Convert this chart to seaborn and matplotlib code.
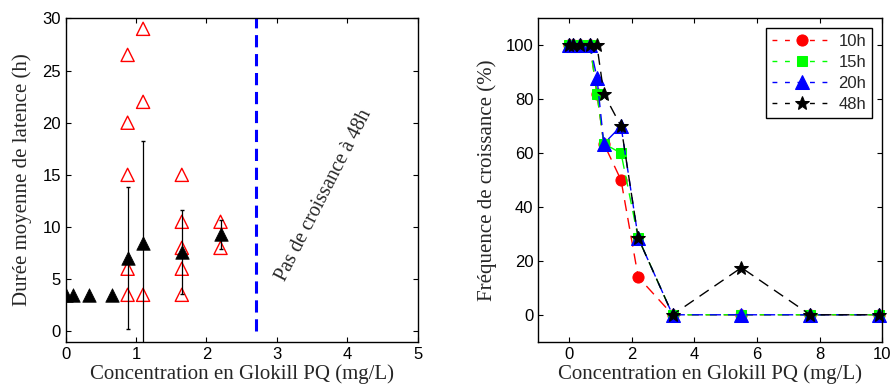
import numpy as np
import seaborn as sns
import matplotlib
matplotlib.use("Agg")
import matplotlib.pyplot as plt

# left panel: latency per concentration
conc_raw = [0.88, 0.88, 0.88, 0.88, 0.88, 1.1, 1.1, 1.1,
            1.65, 1.65, 1.65, 1.65, 1.65, 2.2, 2.2]
latency_raw = [26.5, 20, 15, 6, 3.5, 29, 22, 3.5,
               15, 10.5, 8, 6, 3.5, 10.5, 8]
conc_mean = [0, 0.11, 0.33, 0.66, 0.88, 1.1, 1.65, 2.2]
latency_mean = [3.5, 3.5, 3.5, 3.5, 7.0, 8.5, 7.6, 9.3]
latency_err = [0, 0, 0, 0, 6.8, 9.7, 4.05, 1.4]
no_growth_conc = 2.7
no_growth_text = "Pas de croissance à 48h"

# right panel: growth frequency
conc = [0, 0.11, 0.33, 0.66, 0.88, 1.1, 1.65, 2.2, 3.3, 5.5, 7.7, 9.9]
freq_10h = [100, 100, 100, 100, 82, 63.5, 50, 14, 0, 0, 0, 0]
freq_15h = [100, 100, 100, 100, 82, 63.5, 60, 28.5, 0, 0, 0, 0]
freq_20h = [100, 100, 100, 100, 88, 63.5, 70, 28.5, 0, 0, 0, 0]
freq_48h = [100, 100, 100, 100, 100, 82, 70, 28.5, 0, 17.5, 0, 0]
series_labels = ["10h", "15h", "20h", "48h"]

sns.set_style("ticks")
plt.rcParams["font.family"] = ["Liberation Sans", "DejaVu Sans"]
plt.rcParams["xtick.direction"] = "in"
plt.rcParams["ytick.direction"] = "in"
plt.rcParams["xtick.top"] = True
plt.rcParams["ytick.right"] = True
plt.rcParams["xtick.major.size"] = 3.5
plt.rcParams["ytick.major.size"] = 3.5
plt.rcParams["xtick.labelsize"] = 12
plt.rcParams["ytick.labelsize"] = 12
plt.rcParams["axes.edgecolor"] = "black"
plt.rcParams["axes.linewidth"] = 1.0
plt.rcParams["xtick.color"] = "black"
plt.rcParams["ytick.color"] = "black"

serif = ["Liberation Serif", "DejaVu Serif"]

fig = plt.figure(figsize=(8.91, 3.91), dpi=100)
ax1 = fig.add_axes([0.0737, 0.126, 0.395, 0.827])
ax2 = fig.add_axes([0.604, 0.126, 0.386, 0.827])

# --- left panel
sns.scatterplot(x=conc_raw, y=latency_raw, ax=ax1, marker="^", s=90,
                facecolors="none", edgecolor="#ff0000", linewidth=1, zorder=2)
ax1.errorbar(conc_mean, latency_mean, yerr=latency_err, fmt="none",
             ecolor="black", elinewidth=0.9, capsize=1.5, zorder=3)
sns.scatterplot(x=conc_mean, y=latency_mean, ax=ax1, marker="^", s=95,
                color="black", edgecolor="black", linewidth=0.5, zorder=4)
ax1.plot([no_growth_conc, no_growth_conc], [0, 30], color="#0000ff",
         lw=2.2, linestyle=(0, (4, 2.2)))
ax1.text(3.67, 13.0, no_growth_text, rotation=63, ha="center", va="center",
         rotation_mode="anchor", fontsize=14.5, family=serif)
ax1.set_xlim(0, 5)
ax1.set_ylim(-1, 30)
ax1.set_xticks(range(0, 6))
ax1.set_yticks(range(0, 31, 5))
ax1.set_xlabel("Concentration en Glokill PQ (mg/L)", fontsize=15, family=serif, labelpad=2)
ax1.set_ylabel("Durée moyenne de latence (h)", fontsize=15, family=serif, labelpad=7)

# --- right panel
series = [
    (freq_10h, "#ff0000", "o", 8),
    (freq_15h, "#00ff00", "s", 6.5),
    (freq_20h, "#0000ff", "^", 9.5),
    (freq_48h, "black", "*", 10),
]
for (vals, col, mk, ms), lab in zip(series, series_labels):
    sns.lineplot(x=conc, y=vals, ax=ax2, color=col, marker=mk, markersize=ms,
                 markeredgecolor=col, markerfacecolor=col, lw=1,
                 linestyle=(0, (8, 5)), label=lab, clip_on=False)

ax2.set_xlim(-1, 10)
ax2.set_ylim(-10, 110)
ax2.set_xticks(range(0, 11, 2))
ax2.set_yticks(range(0, 101, 20))
ax2.set_xlabel("Concentration en Glokill PQ (mg/L)", fontsize=15, family=serif, labelpad=2)
ax2.set_ylabel("Fréquence de croissance (%)", fontsize=15, family=serif, labelpad=6)
leg = ax2.legend(loc="upper right", fontsize=12, handlelength=3.6,
                 fancybox=False, framealpha=1, edgecolor="black",
                 borderpad=0.35, labelspacing=0.35, handletextpad=0.4,
                 borderaxespad=0.6)
leg.get_frame().set_linewidth(1.0)
for h in leg.get_lines():
    h.set_linestyle((0, (3.5, 5.5)))

for ax in (ax1, ax2):
    for sp in ax.spines.values():
        sp.set_visible(True)
        sp.set_color("black")

fig.savefig("out.png", dpi=100)
